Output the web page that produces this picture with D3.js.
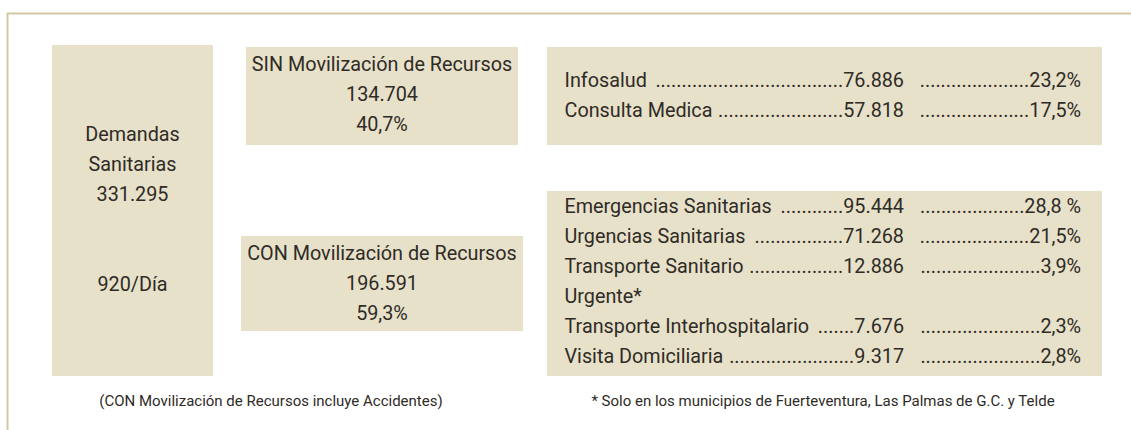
<!DOCTYPE html>
<html>
<head>
<meta charset="utf-8">
<script src="https://cdn.jsdelivr.net/npm/d3@7"></script>
<style>
  body { margin: 0; background: #fff; }
  svg text { font-family: Roboto, "Open Sans", sans-serif; fill: #2f2b26; }
</style>
</head>
<body>
<div id="vis"></div>
<script>
// totals
var totalLabel = ["Demandas", "Sanitarias"];
var totalValue = 331295;
var perDay = 920;

// SIN / CON groups
var groupLabels = ["SIN Movilización de Recursos", "CON Movilización de Recursos"];
var groupValues = [134704, 196591];
var groupPcts = ["40,7%", "59,3%"];

// detail rows (top box = SIN, bottom box = CON)
var sinLabels = ["Infosalud", "Consulta Medica"];
var sinValues = [76886, 57818];
var sinPcts = ["23,2%", "17,5%"];

var conLabels = ["Emergencias Sanitarias", "Urgencias Sanitarias", "Transporte Sanitario",
  "Transporte Interhospitalario", "Visita Domiciliaria"];
var conValues = [95444, 71268, 12886, 7676, 9317];
var conPcts = ["28,8 %", "21,5%", "3,9%", "2,3%", "2,8%"];
var conExtra = { 2: "Urgente*" };   // wrapped second line

var notes = ["(CON Movilización de Recursos incluye Accidentes)",
  "* Solo en los municipios de Fuerteventura, Las Palmas de G.C. y Telde"];

var width = 1131, height = 430;
var boxFill = "#e7e1ca";
var fontSize = 19.8;
var lineH = 30;

// spanish number format: 134.704
var es = d3.formatLocale({ decimal: ",", thousands: ".", grouping: [3], currency: ["", "€"] });
var fmt = es.format(",d");

var svg = d3.select("#vis").append("svg")
  .attr("width", width)
  .attr("height", height);

// frame (top and left rule)
svg.append("line")
  .attr("x1", 7).attr("x2", width).attr("y1", 13.5).attr("y2", 13.5)
  .attr("stroke", "#d3c8a2").attr("stroke-width", 2);
svg.append("line")
  .attr("x1", 7.5).attr("x2", 7.5).attr("y1", 13).attr("y2", height)
  .attr("stroke", "#d3c8a2").attr("stroke-width", 2);

// boxes
var boxes = [
  { x: 52, y: 45, w: 161, h: 331 },    // total
  { x: 246, y: 47, w: 272, h: 98 },    // SIN
  { x: 241, y: 236, w: 282, h: 95 },   // CON
  { x: 547, y: 47, w: 555, h: 98 },    // SIN detail
  { x: 547, y: 191, w: 555, h: 185 }   // CON detail
];
svg.selectAll("rect.box").data(boxes).enter().append("rect")
  .attr("class", "box")
  .attr("x", function (d) { return d.x; })
  .attr("y", function (d) { return d.y; })
  .attr("width", function (d) { return d.w; })
  .attr("height", function (d) { return d.h; })
  .attr("fill", boxFill);

function centerLines(cx, y0, lines) {
  lines.forEach(function (t, i) {
    svg.append("text")
      .attr("x", cx)
      .attr("y", y0 + i * lineH)
      .attr("text-anchor", "middle")
      .style("font-size", fontSize + "px")
      .text(t);
  });
}

// total box
var b0 = boxes[0];
centerLines(b0.x + b0.w / 2, 141, totalLabel.concat([fmt(totalValue)]));
centerLines(b0.x + b0.w / 2, 291, [perDay + "/Día"]);

// SIN / CON boxes
var gBase = [71, 260];
groupLabels.forEach(function (lab, i) {
  var b = boxes[i + 1];
  centerLines(b.x + b.w / 2, gBase[i], [lab, fmt(groupValues[i]), groupPcts[i]]);
});

// dot leader rows
var labelX = 564.5, valueRight = 904, pctDotsLeft = 917, pctRight = 1081;

function textW(s) {
  var t = svg.append("text").style("font-size", fontSize + "px").text(s);
  var w = t.node().getComputedTextLength();
  t.remove();
  return w;
}
var dotW = textW("..........") / 10;
var spaceW = textW("a a") - textW("aa");

function dots(n) { return new Array(Math.max(0, n) + 1).join("."); }

function drawRows(labels, values, pcts, y0, extra) {
  var y = y0;
  labels.forEach(function (lab, i) {
    var g = svg.append("g");
    var l = g.append("text").attr("x", labelX).attr("y", y)
      .style("font-size", fontSize + "px").text(lab);
    var lEnd = labelX + l.node().getComputedTextLength() + spaceW;
    var v = g.append("text").attr("x", valueRight).attr("y", y)
      .attr("text-anchor", "end").style("font-size", fontSize + "px")
      .text(fmt(values[i]));
    var vStart = valueRight - v.node().getComputedTextLength();
    g.append("text").attr("x", vStart).attr("y", y)
      .attr("text-anchor", "end").style("font-size", fontSize + "px")
      .text(dots(Math.floor((vStart - lEnd) / dotW)));
    var p = g.append("text").attr("x", pctRight).attr("y", y)
      .attr("text-anchor", "end").style("font-size", fontSize + "px")
      .text(pcts[i]);
    var pStart = pctRight - p.node().getComputedTextLength();
    g.append("text").attr("x", pStart).attr("y", y)
      .attr("text-anchor", "end").style("font-size", fontSize + "px")
      .text(dots(Math.floor((pStart - pctDotsLeft) / dotW)));
    y += lineH;
    if (extra && extra[i]) {
      svg.append("text").attr("x", labelX).attr("y", y)
        .style("font-size", fontSize + "px").text(extra[i]);
      y += lineH;
    }
  });
}

drawRows(sinLabels, sinValues, sinPcts, 86.7);
drawRows(conLabels, conValues, conPcts, 213.3, conExtra);

// footnotes
svg.selectAll("text.note").data(notes).enter().append("text")
  .attr("class", "note")
  .attr("x", function (d, i) { return i === 0 ? 271 : 823; })
  .attr("y", 406)
  .attr("text-anchor", "middle")
  .style("font-size", "15px")
  .text(function (d) { return d; });
</script>
</body>
</html>
